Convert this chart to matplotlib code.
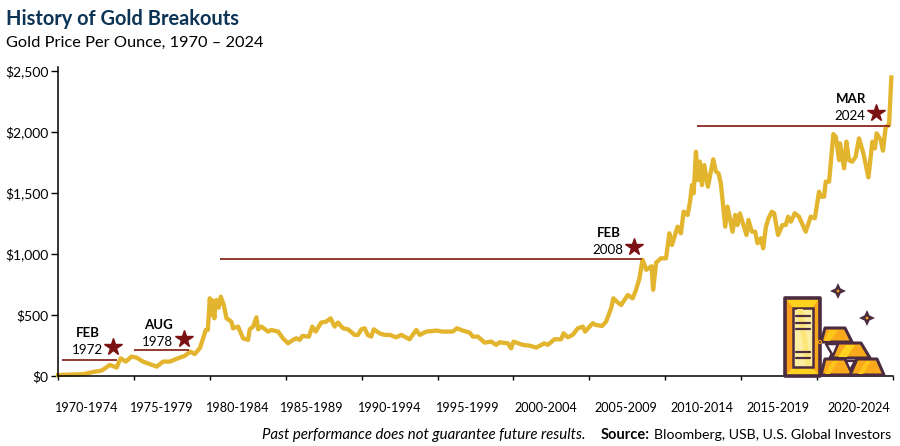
import matplotlib
matplotlib.use("Agg")
import matplotlib.pyplot as plt
from matplotlib.patches import Polygon, Rectangle

plt.rcParams['font.family'] = ['Lato', 'DejaVu Sans']

# gold price
years = [1970.0, 1971.66, 1972.43, 1972.87, 1973.42, 1973.86, 1974.12, 1974.47, 1974.84, 1975.17,
         1975.6, 1976.5, 1976.92, 1977.36, 1977.9, 1978.35, 1978.72, 1979.0, 1979.34, 1979.56,
         1979.73, 1979.87, 1980.0, 1980.08, 1980.17, 1980.3, 1980.37, 1980.44, 1980.58, 1980.72, 1980.92, 1981.1,
         1981.42, 1981.53, 1981.86, 1982.19, 1982.52, 1982.63, 1982.85, 1983.07, 1983.18, 1983.4,
         1983.84, 1984.05, 1984.5, 1984.82, 1985.15, 1985.48, 1985.7, 1985.92, 1986.1, 1986.53,
         1986.75, 1986.97, 1987.34, 1987.67, 1987.96, 1988.22, 1988.44, 1988.77, 1989.1, 1989.54,
         1989.76, 1989.98, 1990.2, 1990.4, 1990.63, 1990.8, 1991.18, 1991.5, 1991.85, 1992.28,
         1992.6, 1993.16, 1993.6, 1993.82, 1994.26, 1994.92, 1995.35, 1996.0, 1996.28, 1996.67,
         1997.11, 1997.33, 1997.66, 1998.1, 1998.53, 1998.86, 1999.08, 1999.63, 1999.85, 2000.0,
         2000.62, 2001.06, 2001.5, 2002.04, 2002.26, 2002.7, 2003.14, 2003.3, 2003.58, 2003.9,
         2004.24, 2004.57, 2004.72, 2005.22, 2005.44, 2005.84, 2006.1, 2006.43, 2006.58, 2006.8,
         2007.09, 2007.53, 2007.85, 2008.07, 2008.3, 2008.5, 2008.75, 2009.1, 2009.2, 2009.4,
         2009.72, 2010.05, 2010.27, 2010.44, 2010.81, 2011.03, 2011.21, 2011.47, 2011.63, 2011.76,
         2011.87, 2012.02, 2012.17, 2012.28, 2012.42, 2012.57, 2012.81, 2013.16, 2013.34, 2013.51,
         2013.66, 2013.95, 2014.1, 2014.43, 2014.61, 2014.76, 2014.91, 2015.35, 2015.48, 2015.7,
         2015.92, 2016.08, 2016.3, 2016.45, 2016.63, 2016.8, 2017.02, 2017.17, 2017.43, 2017.72,
         2017.94, 2018.09, 2018.27, 2018.53, 2018.81, 2019.25, 2019.58, 2019.85, 2020.13, 2020.24,
         2020.46, 2020.57, 2020.79, 2021.07, 2021.23, 2021.45, 2021.51, 2021.78, 2021.93, 2022.1,
         2022.32, 2022.54, 2022.76, 2023.05, 2023.38, 2023.64, 2023.81, 2023.92, 2024.19, 2024.34,
         2024.52, 2024.74, 2024.89]
prices = [8, 15, 36, 44, 91, 69, 145, 118, 159, 151,
          118, 77, 118, 118, 145, 165, 200, 180, 227, 309,
          378, 378, 637, 500, 620, 473, 600, 623, 560, 650, 582, 473,
          446, 391, 405, 309, 296, 383, 405, 481, 383, 405,
          364, 377, 364, 309, 268, 296, 309, 296, 328, 323,
          405, 364, 438, 446, 473, 405, 438, 391, 383, 337,
          337, 383, 391, 337, 323, 383, 350, 337, 337, 317,
          337, 301, 378, 337, 364, 372, 364, 364, 391, 372,
          356, 323, 323, 274, 282, 255, 276, 268, 227, 282,
          255, 249, 233, 268, 255, 301, 301, 350, 317, 337,
          391, 405, 364, 432, 418, 410, 446, 555, 637, 610,
          582, 664, 637, 705, 800, 954, 870, 900, 707, 930,
          965, 965, 1170, 1074, 1224, 1170, 1347, 1320, 1429, 1565,
          1497, 1838, 1606, 1757, 1565, 1729, 1552, 1776, 1675, 1661,
          1579, 1224, 1388, 1183, 1320, 1238, 1333, 1156, 1279, 1183,
          1183, 1088, 1129, 1047, 1224, 1292, 1347, 1334, 1156, 1238,
          1238, 1306, 1265, 1334, 1306, 1183, 1306, 1293, 1511, 1470,
          1470, 1593, 1593, 1983, 1961, 1770, 1907, 1702, 1921, 1770,
          1757, 1798, 1948, 1825, 1628, 1921, 1866, 1989, 1934, 1847,
          2043, 2057, 2447]

period_labels = ['1970-1974', '1975-1979', '1980-1984', '1985-1989', '1990-1994', '1995-1999',
                 '2000-2004', '2005-2009', '2010-2014', '2015-2019', '2020-2024']
period_starts = [1970, 1975, 1980, 1985, 1990, 1995, 2000, 2005, 2010, 2015, 2020, 2025]
label_years = [1971.91, 1976.84, 1981.84, 1986.71, 1991.84, 1996.97,
               2002.1, 2007.43, 2012.43, 2017.43, 2022.76]
y_ticks = [0, 500, 1000, 1500, 2000, 2500]
y_labels = ['$0', '$500', '$1,000', '$1,500', '$2,000', '$2,500']

# breakouts
months = ['FEB', 'AUG', 'FEB', 'MAR']
break_years = ['1972', '1978', '2008', '2024']
levels = [131, 213, 955, 2050]
level_starts = [1970.26, 1975.0, 1980.66, 2012.1]
level_ends = [1973.88, 1978.62, 2008.49, 2024.8]
star_x = [1973.62, 1978.29, 2007.96, 2023.88]
star_y = [238, 303, 1057, 2156]

GOLD = '#e3b52e'
RED = '#8a2a22'
STAR = '#7a1214'
DARK = '#4b2c40'

fig = plt.figure(figsize=(9, 4.46), dpi=100)
ax = fig.add_axes([58 / 900, (446 - 376) / 446, (893 - 58) / 900, 309 / 446])

ax.plot(years, prices, color=GOLD, lw=3.1, solid_joinstyle='round', clip_on=False, zorder=2)
ax.hlines(levels, level_starts, level_ends, color=RED, lw=1.3, zorder=3)
ax.plot(star_x, star_y, ls='none', marker='*', ms=13, color=STAR, mec=STAR, zorder=4)

for i in range(len(months)):
    ax.annotate(months[i], (star_x[i], star_y[i]), xytext=(-25, 14), textcoords='offset pixels',
                ha='center', va='center', fontsize=9.5, fontweight='bold', color='black')
    ax.annotate(break_years[i], (star_x[i], star_y[i]), xytext=(-26, -3), textcoords='offset pixels',
                ha='center', va='center', fontsize=9.6, color='black')

ax.set_xlim(1970, 2025)
ax.set_ylim(0, 2533)
ax.spines['top'].set_visible(False)
ax.spines['right'].set_visible(False)
ax.spines['left'].set_linewidth(1.1)
ax.spines['bottom'].set_linewidth(1.1)
ax.set_yticks(y_ticks)
ax.set_yticklabels(y_labels, fontsize=10)
ax.set_xticks(period_starts)
ax.set_xticklabels([])
ax.set_xticks(label_years, minor=True)
ax.set_xticklabels(period_labels, minor=True, fontsize=9.1)
ax.tick_params(axis='x', which='minor', length=0, pad=19)
ax.tick_params(axis='x', which='major', length=3, width=1)
ax.tick_params(axis='y', length=5, width=1, pad=2)

# pixel overlay for title, footer and the icon
ov = fig.add_axes([0, 0, 1, 1], zorder=5)
ov.set_xlim(0, 900)
ov.set_ylim(446, 0)
ov.axis('off')

ov.text(6, 19, 'History of Gold Breakouts', fontsize=14.4, fontweight='bold', color='#0d3355', va='center')
ov.text(6, 43, 'Gold Price Per Ounce, 1970 \u2013 2024', fontsize=11.8, color='black', va='center')
ov.text(262, 435, 'Past performance does not guarantee future results.', fontsize=10.8, style='italic', va='center')
ov.text(601, 435, 'Source:', fontsize=10.5, fontweight='bold', va='center')
ov.text(654, 435, 'Bloomberg, USB, U.S. Global Investors', fontsize=10.2, va='center')


def poly(pts, fc, ec='none', lw=0, z=1):
    ov.add_patch(Polygon(pts, closed=True, fc=fc, ec=ec, lw=lw, joinstyle='round', zorder=z))


def sparkle(cx, cy, r):
    q = r * 0.32
    poly([(cx, cy - r), (cx + q, cy - q), (cx + r, cy), (cx + q, cy + q),
          (cx, cy + r), (cx - q, cy + q), (cx - r, cy), (cx - q, cy - q)], DARK)
    ov.add_patch(plt.Circle((cx, cy), 1.4, fc='#f9a01b', ec='none', zorder=2))


# small bars
bars = [
    [(825, 328), (845, 328), (852, 342), (821, 342)],
    [(838, 343), (861, 343), (870, 358), (830, 358)],
    [(825, 359), (845, 359), (853, 375), (821, 375)],
    [(857, 359), (877, 359), (884, 375), (850, 375)],
]
for bar in bars:
    poly(bar, '#fba91c', ec=DARK, lw=2.2, z=3)
poly([(829, 330), (838, 330), (830, 341), (824, 341)], '#ffc61a', z=4)
poly([(846, 345), (855, 345), (847, 357), (838, 357)], '#ffd21f', z=4)
poly([(833, 361), (838, 361), (830, 374), (825, 374)], '#ffc61a', z=4)
poly([(866, 361), (871, 361), (863, 374), (858, 374)], '#ffc61a', z=4)
poly([(826, 344), (838, 344), (833, 356)], 'white', ec=DARK, lw=1.8, z=4)
poly([(846, 361), (855, 361), (850, 370)], 'white', ec=DARK, lw=1.6, z=4)

# tall bar
poly([(785, 298), (820, 298), (820, 376), (785, 376)], '#fdb515', z=5)
poly([(786, 299), (819, 299), (812, 308), (793, 308)], '#ffd21f', z=6)
poly([(786, 299), (793, 308), (793, 367), (786, 375)], '#f99d1c', z=6)
poly([(819, 299), (812, 308), (812, 367), (819, 375)], '#f9a81c', z=6)
poly([(786, 375), (793, 367), (812, 367), (819, 375)], '#ffd21f', z=6)
poly([(785, 298), (820, 298), (820, 376), (785, 376)], 'none', ec=DARK, lw=2.6, z=7)
ov.add_patch(Rectangle((793, 308), 19.5, 59, fc='#fbeea3', ec=DARK, lw=1.8, zorder=7))
poly([(797, 309), (803, 309), (811, 366), (806, 366)], '#fde679', z=8)
for yy in [316, 323, 329, 352, 358]:
    ov.plot([796, 810], [yy, yy], color=DARK, lw=1.6, solid_capstyle='round', zorder=9)
ov.add_patch(plt.Circle((820, 342), 1.6, fc=DARK, ec='#f9a01b', lw=0.8, zorder=9))

sparkle(838, 291, 8)
sparkle(867, 318, 8)

fig.savefig('out.png', dpi=100)
